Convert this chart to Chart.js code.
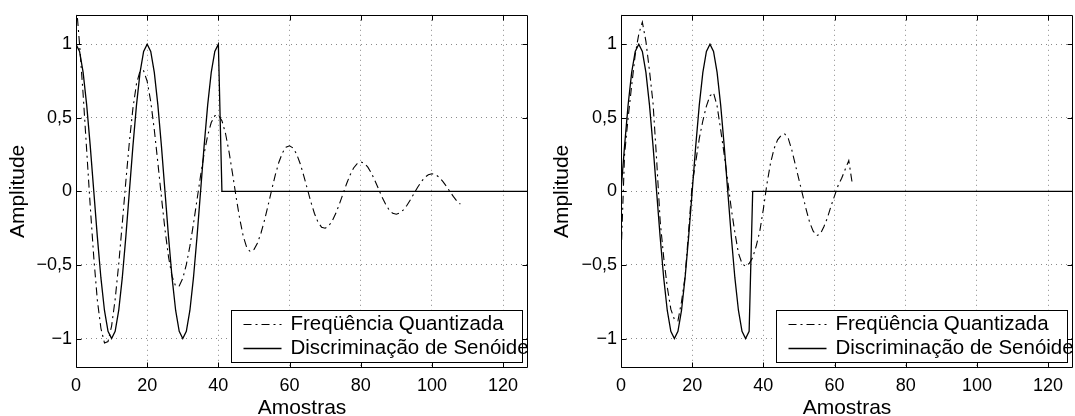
<!DOCTYPE html>
<html><head><meta charset="utf-8">
<script src="https://cdn.jsdelivr.net/npm/chart.js@4.4.1/dist/chart.umd.min.js"></script>
<style>
html,body{margin:0;padding:0;background:#fff;width:1075px;height:416px;overflow:hidden}
#wrap{position:relative;width:1075px;height:416px;background:#fff}
canvas{position:absolute;top:0}
#c1{left:0}#c2{left:537px}
</style></head><body>
<div id="wrap"><canvas id="c1" width="537" height="416"></canvas><canvas id="c2" width="538" height="416"></canvas></div>
<script>
const xTickValues = [0, 20, 40, 60, 80, 100, 120];
const xTickLabels = ['0', '20', '40', '60', '80', '100', '120'];
const yTickValues = [-1, -0.5, 0, 0.5, 1];
const yTickLabels = ['\u22121', '\u22120,5', '0', '0,5', '1'];
const seriesNames = ['Freqüência Quantizada', 'Discriminação de Senóide'];
const xTitle = 'Amostras';
const yTitle = 'Amplitude';
const xMin = 0, xMax = 127, yMin = -1.2, yMax = 1.2;

// Left panel, sample n = array index
const leftQuantized = [1.30, 1.00, 0.66, 0.28, -0.10, -0.45, -0.74, -0.93, -1.03, -1.02,
  -0.915, -0.734, -0.495, -0.219, 0.067, 0.337, 0.566, 0.732, 0.819, 0.820,
  0.748, 0.610, 0.419, 0.195, -0.038, -0.259, -0.446, -0.578, -0.644, -0.642,
  -0.591, -0.498, -0.372, -0.221, -0.057, 0.106, 0.256, 0.380, 0.468, 0.514,
  0.519, 0.481, 0.395, 0.269, 0.118, -0.040, -0.186, -0.306, -0.383, -0.410,
  -0.395, -0.351, -0.281, -0.193, -0.092, 0.012, 0.112, 0.198, 0.262, 0.300,
  0.310, 0.295, 0.253, 0.188, 0.106, 0.017, -0.072, -0.150, -0.209, -0.243,
  -0.250, -0.235, -0.200, -0.149, -0.086, -0.018, 0.050, 0.111, 0.159, 0.189,
  0.200, 0.191, 0.165, 0.124, 0.073, 0.017, -0.039, -0.088, -0.126, -0.149,
  -0.155, -0.146, -0.125, -0.094, -0.055, -0.013, 0.028, 0.065, 0.095, 0.113,
  0.120, 0.114, 0.097, 0.070, 0.037, 0.001, -0.034, -0.065, -0.087];
const leftSinusoid = [1, 0.951, 0.809, 0.588, 0.309, 0, -0.309, -0.588, -0.809, -0.951,
  -1, -0.951, -0.809, -0.588, -0.309, 0, 0.309, 0.588, 0.809, 0.951,
  1, 0.951, 0.809, 0.588, 0.309, 0, -0.309, -0.588, -0.809, -0.951,
  -1, -0.951, -0.809, -0.588, -0.309, 0, 0.309, 0.588, 0.809, 0.951,
  1, 0, 0, 0, 0, 0, 0, 0, 0, 0,
  0, 0, 0, 0, 0, 0, 0, 0, 0, 0,
  0, 0, 0, 0, 0, 0, 0, 0, 0, 0,
  0, 0, 0, 0, 0, 0, 0, 0, 0, 0,
  0, 0, 0, 0, 0, 0, 0, 0, 0, 0,
  0, 0, 0, 0, 0, 0, 0, 0, 0, 0,
  0, 0, 0, 0, 0, 0, 0, 0, 0, 0,
  0, 0, 0, 0, 0, 0, 0, 0, 0, 0,
  0, 0, 0, 0, 0, 0, 0, 0];

// Right panel
const rightQuantized = [-0.45, 0.25, 0.50, 0.72, 0.93, 1.07, 1.15, 1.02, 0.82, 0.60,
  0.22, -0.20, -0.45, -0.65, -0.80, -0.87, -0.88, -0.75, -0.58, -0.27,
  0.05, 0.20, 0.36, 0.48, 0.58, 0.65, 0.67, 0.58, 0.42, 0.25,
  0.07, -0.12, -0.28, -0.42, -0.49, -0.51, -0.49, -0.45, -0.37, -0.27,
  -0.12, 0.05, 0.19, 0.29, 0.35, 0.38, 0.39, 0.36, 0.28, 0.18,
  0.08, -0.02, -0.12, -0.21, -0.27, -0.30, -0.29, -0.24, -0.18, -0.10,
  -0.03, 0.04, 0.09, 0.15, 0.21, 0.05];
const rightSinusoid = [0, 0.309, 0.588, 0.809, 0.951, 1, 0.951, 0.809, 0.588, 0.309,
  0, -0.309, -0.588, -0.809, -0.951, -1, -0.951, -0.809, -0.588, -0.309,
  0, 0.309, 0.588, 0.809, 0.951, 1, 0.951, 0.809, 0.588, 0.309,
  0, -0.309, -0.588, -0.809, -0.951, -1, -0.951, 0, 0, 0,
  0, 0, 0, 0, 0, 0, 0, 0, 0, 0,
  0, 0, 0, 0, 0, 0, 0, 0, 0, 0,
  0, 0, 0, 0, 0, 0, 0, 0, 0, 0,
  0, 0, 0, 0, 0, 0, 0, 0, 0, 0,
  0, 0, 0, 0, 0, 0, 0, 0, 0, 0,
  0, 0, 0, 0, 0, 0, 0, 0, 0, 0,
  0, 0, 0, 0, 0, 0, 0, 0, 0, 0,
  0, 0, 0, 0, 0, 0, 0, 0, 0, 0,
  0, 0, 0, 0, 0, 0, 0, 0];

const FONT = "'Liberation Sans', Arial, Helvetica, sans-serif";
Chart.defaults.font.family = FONT;
Chart.defaults.color = '#000';

const toPts = arr => arr.map((v, i) => ({x: i, y: v}));

const framePlugin = {
  id: 'frame',
  afterDatasetsDraw(chart) {
    const ctx = chart.ctx, a = chart.chartArea;
    const sx = chart.scales.x, sy = chart.scales.y;
    ctx.save();
    ctx.strokeStyle = '#000';
    ctx.lineWidth = 1;
    ctx.setLineDash([]);
    ctx.beginPath();
    const L = Math.round(a.left) + 0.5, R = Math.round(a.right) - 0.5;
    const T = Math.round(a.top) + 0.5, B = Math.round(a.bottom) - 0.5;
    ctx.rect(L, T, R - L, B - T);
    const tl = 5;
    xTickValues.forEach(v => {
      const p = Math.round(sx.getPixelForValue(v)) + 0.5;
      ctx.moveTo(p, B); ctx.lineTo(p, B - tl);
      ctx.moveTo(p, T); ctx.lineTo(p, T + tl);
    });
    yTickValues.forEach(v => {
      const p = Math.round(sy.getPixelForValue(v)) + 0.5;
      ctx.moveTo(L, p); ctx.lineTo(L + tl, p);
      ctx.moveTo(R, p); ctx.lineTo(R - tl, p);
    });
    ctx.stroke();
    ctx.restore();
  },
  afterDraw(chart) {
    const ctx = chart.ctx, a = chart.chartArea;
    const bx = Math.round(a.right) - 297 + 0.5, by = Math.round(a.bottom) - 58 + 0.5;
    const bw = 291, bh = 52;
    ctx.save();
    ctx.fillStyle = '#fff';
    ctx.fillRect(bx, by, bw, bh);
    ctx.strokeStyle = '#000';
    ctx.lineWidth = 1;
    ctx.setLineDash([]);
    ctx.strokeRect(bx, by, bw, bh);
    const rows = [by + 13, by + 37];
    chart.data.datasets.forEach((ds, i) => {
      const y = Math.round(rows[i]) + 0.5;
      ctx.beginPath();
      ctx.lineWidth = ds.borderWidth;
      ctx.setLineDash(ds.borderDash || []);
      ctx.moveTo(bx + 12, y); ctx.lineTo(bx + 50, y);
      ctx.stroke();
      ctx.setLineDash([]);
      ctx.fillStyle = '#000';
      ctx.font = '20.5px ' + FONT;
      ctx.textBaseline = 'middle';
      ctx.textAlign = 'left';
      ctx.fillText(ds.label, bx + 59, y);
    });
    ctx.restore();
  }
};

function makeChart(id, quant, sinus, yAxisWidth, padRight, yTitlePad) {
  return new Chart(document.getElementById(id), {
    type: 'line',
    data: {
      datasets: [
        {label: seriesNames[0], data: toPts(quant), borderColor: '#000', borderWidth: 1.1,
         borderDash: [8, 4, 2, 4], pointRadius: 0, fill: false, tension: 0},
        {label: seriesNames[1], data: toPts(sinus), borderColor: '#000', borderWidth: 1.3,
         pointRadius: 0, fill: false, tension: 0}
      ]
    },
    options: {
      responsive: false, animation: false, devicePixelRatio: 1,
      layout: {padding: {top: 11, right: padRight, left: 0, bottom: 0}},
      plugins: {legend: {display: false}, tooltip: {enabled: false}},
      scales: {
        x: {
          type: 'linear', min: xMin, max: xMax,
          afterBuildTicks: s => { s.ticks = xTickValues.map(v => ({value: v})); },
          afterFit: s => { s.height = 48; },
          grid: {color: '#8a8a8a', lineWidth: 1, drawTicks: false},
          border: {display: false, dash: [1, 4]},
          ticks: {color: '#000', font: {size: 18}, padding: 7, maxRotation: 0, autoSkip: false,
                  callback: (v, i) => xTickLabels[i]},
          title: {display: true, text: xTitle, color: '#000', font: {size: 21, lineHeight: 1},
                  padding: {top: 0, bottom: -3}}
        },
        y: {
          type: 'linear', min: yMin, max: yMax,
          afterBuildTicks: s => { s.ticks = yTickValues.map(v => ({value: v})); },
          afterFit: s => { s.width = yAxisWidth; },
          grid: {color: '#8a8a8a', lineWidth: 1, drawTicks: false},
          border: {display: false, dash: [1, 4]},
          ticks: {color: '#000', font: {size: 18}, padding: 4, autoSkip: false,
                  callback: (v, i) => yTickLabels[i]},
          title: {display: true, text: yTitle, color: '#000', font: {size: 21, lineHeight: 1},
                  padding: {top: yTitlePad, bottom: 0}}
        }
      }
    },
    plugins: [framePlugin]
  });
}

makeChart('c1', leftQuantized, leftSinusoid, 76, 9, 8);
makeChart('c2', rightQuantized, rightSinusoid, 84, 2, 15);
</script>
</body></html>
